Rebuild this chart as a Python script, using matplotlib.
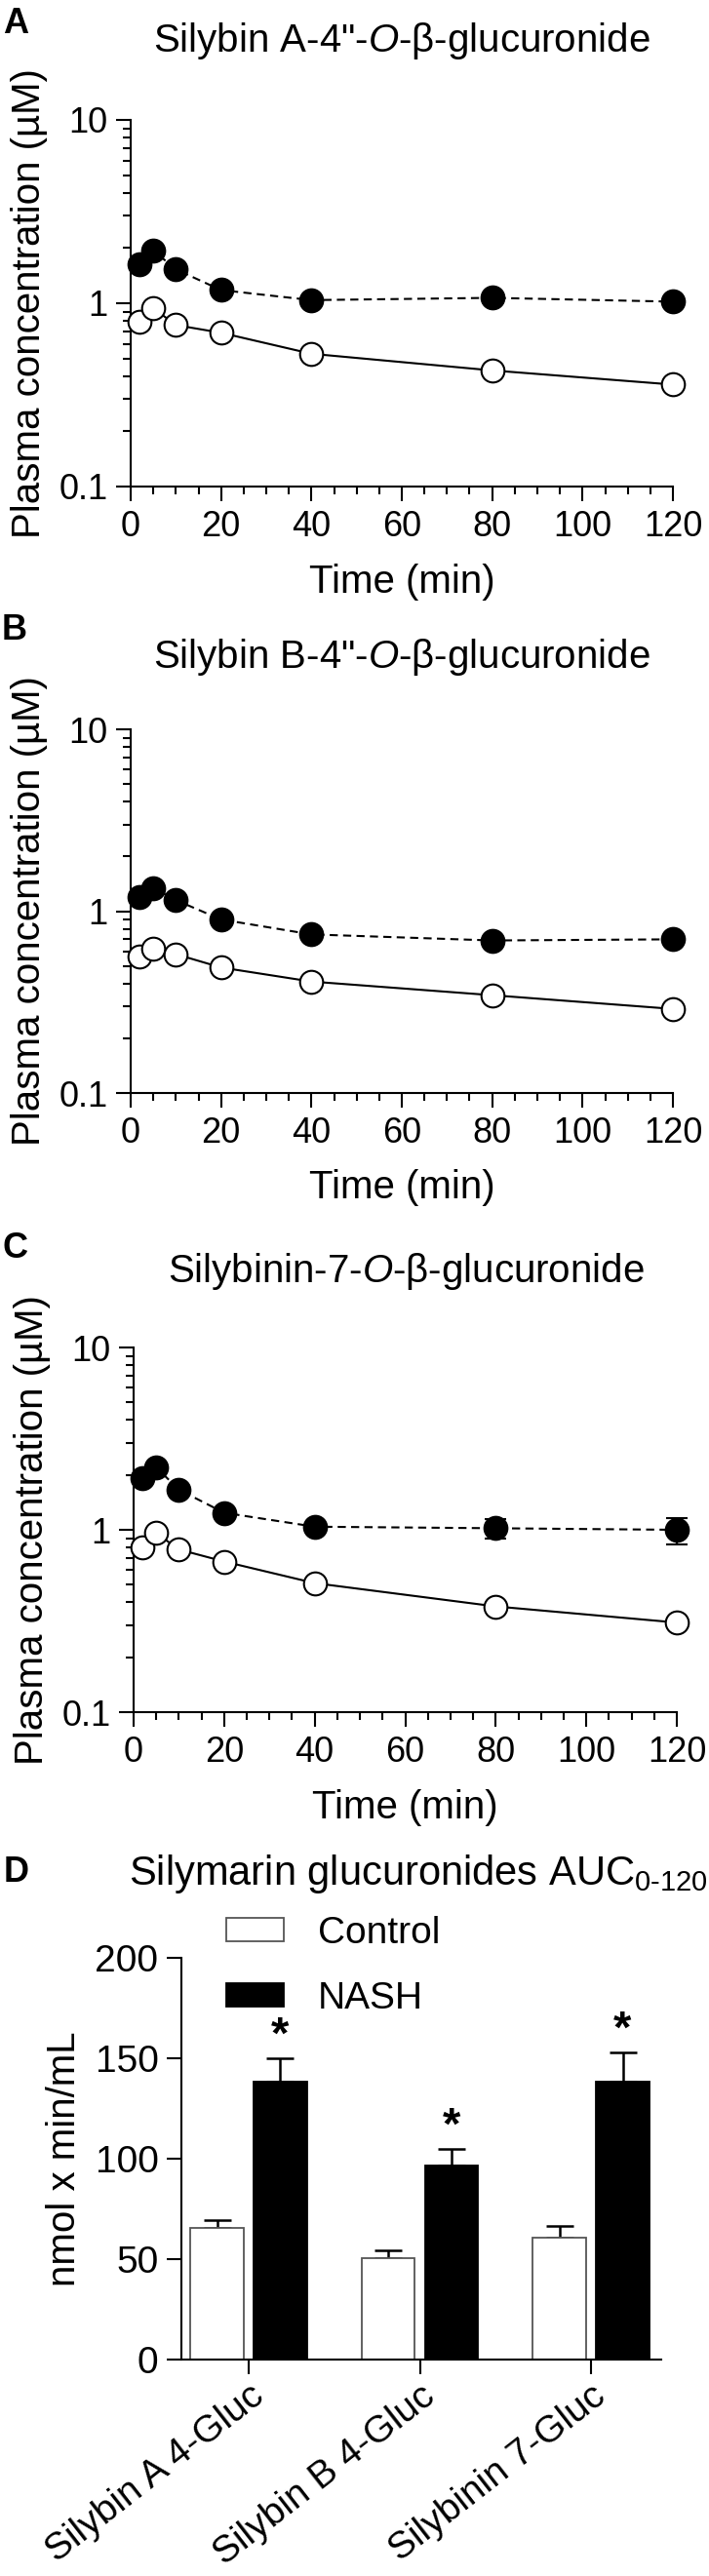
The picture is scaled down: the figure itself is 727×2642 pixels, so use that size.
import matplotlib
matplotlib.use("Agg")
import matplotlib.pyplot as plt
from matplotlib.ticker import FixedLocator, MultipleLocator, NullFormatter
import numpy as np

plt.rcParams['font.family'] = 'Liberation Sans'
plt.rcParams['mathtext.fontset'] = 'custom'
plt.rcParams['mathtext.rm'] = 'Liberation Sans'
plt.rcParams['mathtext.it'] = 'Liberation Sans:italic'

# ---- data ----
times = [2, 5, 10, 20, 40, 80, 120]

silybin_a_control = [0.79, 0.94, 0.76, 0.69, 0.53, 0.43, 0.36]
silybin_a_nash = [1.64, 1.94, 1.53, 1.18, 1.04, 1.07, 1.02]

silybin_b_control = [0.56, 0.62, 0.58, 0.49, 0.41, 0.345, 0.29]
silybin_b_nash = [1.19, 1.34, 1.15, 0.90, 0.745, 0.69, 0.70]

silybinin_control = [0.80, 0.96, 0.78, 0.67, 0.51, 0.38, 0.31]
silybinin_nash = [1.92, 2.20, 1.66, 1.24, 1.04, 1.02, 1.00]
silybinin_nash_sem = [0, 0, 0, 0, 0, 0.13, 0.165]

auc_groups = ['Silybin A 4-Gluc', 'Silybin B 4-Gluc', 'Silybinin 7-Gluc']
auc_control = [65.6, 50.3, 60.5]
auc_control_sem = [3.9, 3.9, 6.1]
auc_nash = [138.5, 96.7, 138.5]
auc_nash_sem = [11.5, 8.3, 14.5]

W, H = 727, 2642
DPI = 100
fig = plt.figure(figsize=(W / DPI, H / DPI), dpi=DPI)


def place(left, top, right, bottom):
    # axes box given in pixel coords of the final image
    return fig.add_axes([left / W, 1 - bottom / H, (right - left) / W, (bottom - top) / H])


def fig_text(x, y, s, **kw):
    fig.text(x / W, 1 - y / H, s, **kw)


def style_axes(ax, fs):
    for side in ['top', 'right']:
        ax.spines[side].set_visible(False)
    for side in ['left', 'bottom']:
        ax.spines[side].set_linewidth(1.5)
    ax.tick_params(which='major', direction='out', length=11, width=1.5, labelsize=fs, pad=6)
    ax.tick_params(which='minor', direction='out', length=5.5, width=1.5)


def pk_panel(ax, control, nash, nash_sem=None):
    ax.plot(times, control, color='black', lw=1.5, marker='o', ms=17, mfc='white',
            mec='black', mew=1.5, clip_on=False, zorder=3)
    ax.errorbar(times, nash, yerr=nash_sem, color='black', lw=1.5, ls=(0, (4, 2.6)),
                marker='o', ms=17, mfc='black', mec='black', mew=1.5,
                capsize=8, capthick=1.6, elinewidth=1.6, clip_on=False, zorder=4)
    ax.set_yscale('log')
    ax.set_ylim(0.1, 10)
    ax.set_xlim(0, 120)
    ax.yaxis.set_major_locator(FixedLocator([0.1, 1, 10]))
    ax.set_yticklabels(['0.1', '1', '10'])
    ax.yaxis.set_minor_locator(FixedLocator([m * d for d in (0.1, 1) for m in range(2, 10)]))
    ax.yaxis.set_minor_formatter(NullFormatter())
    ax.set_xticks(range(0, 121, 20))
    ax.xaxis.set_minor_locator(MultipleLocator(5))
    style_axes(ax, 26)
    ax.set_ylabel('Plasma concentration (µM)', fontsize=29)
    ax.set_xlabel('Time (min)', fontsize=29)
    # ylabel anchor = right edge of the rotated label, xlabel anchor = its top
    ax.yaxis.set_label_coords(-0.152, 0.5)
    ax.xaxis.set_label_coords(0.5, -0.21)


# ---- panel A ----
ax_a = place(134, 123, 690, 499)
pk_panel(ax_a, silybin_a_control, silybin_a_nash)
fig_text(16, 24, 'A', fontsize=26, fontweight='bold', ha='center', va='center')
fig_text(412, 42, 'Silybin A-4"-$\\mathit{O}$-β-glucuronide', fontsize=29, ha='center', va='center')

# ---- panel B ----
ax_b = place(134, 748, 690, 1121)
pk_panel(ax_b, silybin_b_control, silybin_b_nash)
fig_text(15, 646, 'B', fontsize=26, fontweight='bold', ha='center', va='center')
fig_text(412, 674, 'Silybin B-4"-$\\mathit{O}$-β-glucuronide', fontsize=29, ha='center', va='center')

# ---- panel C ----
ax_c = place(137, 1382, 694, 1756)
pk_panel(ax_c, silybinin_control, silybinin_nash, silybinin_nash_sem)
fig_text(15, 1280, 'C', fontsize=26, fontweight='bold', ha='center', va='center')
fig_text(416, 1304, 'Silybinin-7-$\\mathit{O}$-β-glucuronide', fontsize=29, ha='center', va='center')

# ---- panel D ----
ax_d = place(186, 2008, 678, 2420)
x = np.arange(len(auc_groups))
bw = 0.31
off = 0.185
ax_d.bar(x - off, auc_control, bw, color='white', edgecolor='#555555', lw=1.3, label='Control', zorder=2)
ax_d.bar(x + off, auc_nash, bw, color='black', edgecolor='black', lw=1.3, label='NASH', zorder=2)
ax_d.errorbar(x - off, auc_control, yerr=[np.zeros(3), auc_control_sem], fmt='none',
              ecolor='black', elinewidth=1.8, capsize=10, capthick=1.8, zorder=1)
ax_d.errorbar(x + off, auc_nash, yerr=[np.zeros(3), auc_nash_sem], fmt='none',
              ecolor='black', elinewidth=1.8, capsize=10, capthick=1.8, zorder=1)
for xi, v, e in zip(x + off, auc_nash, auc_nash_sem):
    ax_d.annotate('*', xy=(xi, v + e), xytext=(0, 0), textcoords='offset points',
                  ha='center', va='bottom', fontsize=34, fontweight='bold')
ax_d.set_ylim(0, 200)
ax_d.set_xlim(-0.393, 2.41)
ax_d.set_yticks([0, 50, 100, 150, 200])
ax_d.set_xticks(x)
style_axes(ax_d, 28)
ax_d.set_xticklabels(auc_groups, rotation=38, ha='right', va='top',
                     rotation_mode='anchor', fontsize=28)
ax_d.tick_params(axis='x', pad=3)
ax_d.set_ylabel('nmol x min/mL', fontsize=29)
ax_d.yaxis.set_label_coords(-0.205, 0.5)
ax_d.legend(loc='upper left', bbox_to_anchor=(0.0935, 1.105), frameon=False, fontsize=28,
            borderpad=0, handlelength=1.52, handleheight=0.59, handletextpad=0.9,
            labelspacing=0.8, borderaxespad=0)
fig_text(17, 1921, 'D', fontsize=26, fontweight='bold', ha='center', va='center')
fig_text(429, 1922, 'Silymarin glucuronides AUC$_{\\text{0-120}}$', fontsize=30,
         ha='center', va='center')

fig.savefig('out.png', dpi=DPI)
